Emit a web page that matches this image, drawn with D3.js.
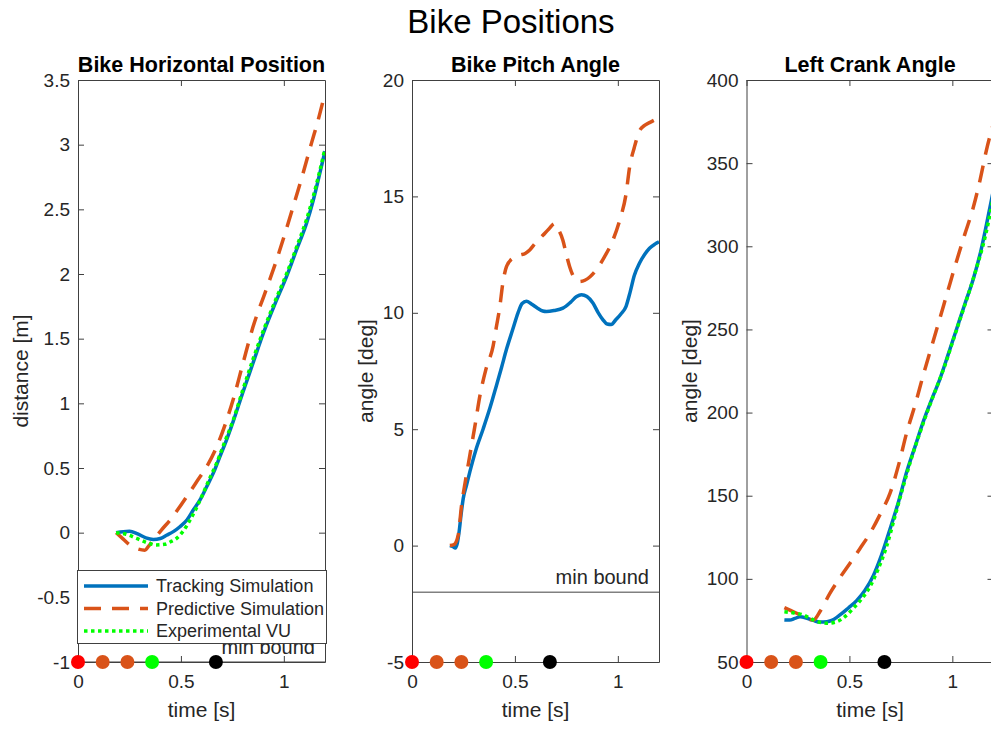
<!DOCTYPE html>
<html>
<head>
<meta charset="utf-8">
<script src="https://cdn.jsdelivr.net/npm/d3@7"></script>
<style>
  html, body { margin: 0; padding: 0; background: #fff; overflow: hidden; }
  svg { display: block; font-family: "Liberation Sans", Arial, sans-serif; }
</style>
</head>
<body>
<svg id="chart" width="991" height="729"></svg>
<script>
// ---------------- DATA ----------------
const figureTitle = "Bike Positions";
const panelTitles = ["Bike Horizontal Position", "Bike Pitch Angle", "Left Crank Angle"];
const yLabels = ["distance [m]", "angle [deg]", "angle [deg]"];
const xLabel = "time [s]";
const seriesNames = ["Tracking Simulation", "Predictive Simulation", "Experimental VU"];

const timeDomain = [0, 1.2];
const timeTicks = [0, 0.5, 1];

const horizDomain = [-1, 3.5];
const horizTicks = [-1, -0.5, 0, 0.5, 1, 1.5, 2, 2.5, 3, 3.5];
const pitchDomain = [-5, 20];
const pitchTicks = [-5, 0, 5, 10, 15, 20];
const crankDomain = [50, 400];
const crankTicks = [50, 100, 150, 200, 250, 300, 350, 400];

const minBounds = [-1, -2, null];

const markerTimes = [0, 0.12, 0.24, 0.36, 0.67];
const markerColors = ["#FF0000", "#D95319", "#D95319", "#00FF00", "#000000"];

// [time, value]
const horizTracking = [[0.185,0],[0.22,0.008],[0.25,0.01],[0.29,-0.01],[0.33,-0.04],[0.366,-0.052],[0.40,-0.045],[0.43,-0.02],[0.465,0.01],[0.495,0.046],[0.53,0.1],[0.56,0.175],[0.595,0.26],[0.625,0.355],[0.66,0.47],[0.689,0.587],[0.72,0.71],[0.754,0.86],[0.8,1.08],[0.85,1.31],[0.9,1.54],[0.96,1.78],[1.013,1.98],[1.06,2.18],[1.11,2.39],[1.143,2.57],[1.175,2.78],[1.2,2.95]];
const horizPredictive = [[0.185,0],[0.22,-0.05],[0.252,-0.096],[0.29,-0.125],[0.325,-0.135],[0.345,-0.1],[0.366,-0.057],[0.405,0.02],[0.447,0.097],[0.49,0.19],[0.528,0.278],[0.575,0.39],[0.625,0.51],[0.67,0.65],[0.714,0.832],[0.754,1.03],[0.8,1.3],[0.85,1.59],[0.91,1.86],[0.965,2.11],[1.005,2.31],[1.045,2.52],[1.09,2.76],[1.134,3.01],[1.165,3.18],[1.2,3.40]];
const horizExperimental = [[0.185,0],[0.23,-0.01],[0.285,-0.044],[0.34,-0.08],[0.38,-0.095],[0.42,-0.09],[0.45,-0.07],[0.479,-0.044],[0.51,0.01],[0.544,0.097],[0.575,0.19],[0.608,0.304],[0.64,0.42],[0.673,0.536],[0.71,0.69],[0.754,0.87],[0.8,1.1],[0.85,1.34],[0.9,1.56],[0.96,1.8],[1.013,2.0],[1.06,2.2],[1.11,2.42],[1.143,2.6],[1.175,2.8],[1.2,2.97]];

const pitchTracking = [[0.184,0],[0.2,-0.05],[0.21,-0.1],[0.22,0.1],[0.229,0.6],[0.238,1.3],[0.249,2.03],[0.265,2.6],[0.281,3.17],[0.31,4.1],[0.346,5.02],[0.38,5.95],[0.41,6.87],[0.435,7.65],[0.459,8.43],[0.49,9.3],[0.515,10.0],[0.535,10.4],[0.556,10.5],[0.58,10.38],[0.61,10.2],[0.635,10.08],[0.653,10.06],[0.69,10.1],[0.733,10.2],[0.77,10.45],[0.8,10.7],[0.823,10.78],[0.85,10.7],[0.879,10.42],[0.905,10.0],[0.927,9.71],[0.948,9.52],[0.968,9.5],[0.99,9.7],[1.015,9.95],[1.04,10.28],[1.06,10.9],[1.08,11.6],[1.105,12.13],[1.13,12.5],[1.154,12.77],[1.18,12.95],[1.2,13.05]];
const pitchPredictive = [[0.184,0],[0.205,0.05],[0.225,0.47],[0.241,1.75],[0.26,2.8],[0.281,3.88],[0.305,5.1],[0.33,6.44],[0.36,7.6],[0.394,8.57],[0.41,9.4],[0.427,10.28],[0.44,11.2],[0.459,11.98],[0.49,12.35],[0.524,12.48],[0.55,12.55],[0.572,12.7],[0.6,13.0],[0.636,13.33],[0.665,13.6],[0.693,13.83],[0.71,13.6],[0.733,13.12],[0.75,12.5],[0.766,11.98],[0.785,11.55],[0.814,11.34],[0.84,11.4],[0.865,11.55],[0.895,11.84],[0.935,12.4],[0.976,13.12],[1.01,14.0],[1.04,15.11],[1.057,16.25],[1.08,17.1],[1.105,17.81],[1.13,18.05],[1.154,18.17],[1.2,18.38]];
const pitchExperimental = [];

const crankTracking = [[0.184,75.3],[0.21,75.2],[0.235,76.2],[0.26,77.2],[0.29,76.5],[0.325,75.0],[0.357,74.0],[0.373,74.0],[0.41,74.8],[0.454,78.3],[0.495,82.5],[0.535,86.9],[0.575,93],[0.616,101.9],[0.655,114],[0.697,129.8],[0.74,147],[0.778,164.2],[0.82,180],[0.858,194.3],[0.9,208],[0.939,220],[0.98,235],[1.02,250],[1.06,265],[1.101,280],[1.14,298],[1.182,323],[1.2,334]];
const crankPredictive = [[0.184,82.7],[0.214,81],[0.244,79.3],[0.28,77.3],[0.31,75.5],[0.325,75.3],[0.36,81],[0.405,91.3],[0.45,100],[0.502,109.3],[0.55,118],[0.6,127.4],[0.65,139],[0.697,151.4],[0.74,169],[0.778,187.8],[0.82,205],[0.858,222.2],[0.9,240],[0.939,256.5],[0.98,274],[1.02,290.9],[1.06,307],[1.101,323],[1.135,340],[1.166,358],[1.2,374]];
const crankExperimental = [[0.184,80.2],[0.23,79.5],[0.276,78.3],[0.325,75.3],[0.36,73.8],[0.389,73.3],[0.438,74.2],[0.48,77.5],[0.519,82.3],[0.56,88],[0.6,95.3],[0.64,106],[0.68,119.3],[0.72,137],[0.76,155],[0.8,172],[0.84,187],[0.88,201],[0.92,214],[0.96,227],[1.0,242],[1.04,257],[1.08,272],[1.12,288],[1.16,306],[1.2,330]];

// ---------------- STYLE / LAYOUT ----------------
const seriesStyles = [
  { color: "#0072BD", width: 3.5, dash: null },
  { color: "#D95319", width: 3.5, dash: "17,11" },
  { color: "#00FF00", width: 3.5, dash: "3.5,3.5" }
];
const axisColor = "#404040";
const textColor = "#262626";
const fontFamily = '"Liberation Sans", Arial, sans-serif';

const panelLefts = [78, 412, 746.5];
const panelWidth = 247;
const panelTop = 80, panelBottom = 662;
const yLabelX = [28, 373, 697];

const panels = [
  { domain: horizDomain, ticks: horizTicks, series: [horizTracking, horizPredictive, horizExperimental] },
  { domain: pitchDomain, ticks: pitchTicks, series: [pitchTracking, pitchPredictive, pitchExperimental] },
  { domain: crankDomain, ticks: crankTicks, series: [crankTracking, crankPredictive, crankExperimental] }
];

const svg = d3.select("#chart");

svg.append("text")
  .attr("x", 511).attr("y", 33)
  .attr("text-anchor", "middle")
  .attr("font-size", 33).attr("fill", "#000")
  .text(figureTitle);

const fmt = d => String(d);

panels.forEach((p, i) => {
  const x0 = panelLefts[i];
  const x = d3.scaleLinear().domain(timeDomain).range([x0, x0 + panelWidth]);
  const y = d3.scaleLinear().domain(p.domain).range([panelBottom, panelTop]);
  const g = svg.append("g");

  const clipId = "clip" + i;
  svg.append("clipPath").attr("id", clipId)
    .append("rect").attr("x", x0).attr("y", panelTop).attr("width", panelWidth).attr("height", panelBottom - panelTop);

  // min bound
  if (minBounds[i] !== null) {
    g.append("line")
      .attr("x1", x(timeDomain[0])).attr("x2", x(timeDomain[1]))
      .attr("y1", y(minBounds[i])).attr("y2", y(minBounds[i]))
      .attr("stroke", "#808080").attr("stroke-width", 1.5);
    g.append("text")
      .attr("x", x(timeDomain[1]) - 10).attr("y", y(minBounds[i]) - 8)
      .attr("text-anchor", "end").attr("font-size", 20).attr("fill", textColor)
      .text("min bound");
  }

  // axes
  const axes = [
    { ax: d3.axisBottom(x).tickValues(timeTicks).tickFormat(fmt).tickSize(-6).tickSizeOuter(0).tickPadding(13), tr: `translate(0,${panelBottom})` },
    { ax: d3.axisTop(x).tickValues(timeTicks).tickFormat("").tickSize(-6).tickSizeOuter(0), tr: `translate(0,${panelTop})` },
    { ax: d3.axisLeft(y).tickValues(p.ticks).tickFormat(fmt).tickSize(-6).tickSizeOuter(0).tickPadding(8), tr: `translate(${x0},0)` },
    { ax: d3.axisRight(y).tickValues(p.ticks).tickFormat("").tickSize(-6).tickSizeOuter(0), tr: `translate(${x0 + panelWidth},0)` }
  ];
  axes.forEach(a => {
    const ag = g.append("g").attr("transform", a.tr).call(a.ax);
    ag.select(".domain").attr("stroke", axisColor).attr("stroke-width", 1);
    ag.selectAll(".tick line").attr("stroke", axisColor).attr("stroke-width", 1);
    ag.selectAll(".tick text").attr("fill", textColor).attr("font-size", 19).attr("font-family", fontFamily);
  });

  // series
  const line = d3.line().x(d => x(d[0])).y(d => y(d[1])).curve(d3.curveMonotoneX);
  p.series.forEach((s, k) => {
    if (!s.length) return;
    const st = seriesStyles[k];
    g.append("path")
      .attr("clip-path", `url(#${clipId})`)
      .attr("d", line(s))
      .attr("fill", "none")
      .attr("stroke", st.color)
      .attr("stroke-width", st.width)
      .attr("stroke-dasharray", st.dash)
      .attr("stroke-linejoin", "round");
  });

  // event markers
  g.selectAll("circle.ev").data(markerTimes).enter().append("circle")
    .attr("cx", d => x(d)).attr("cy", y(p.domain[0])).attr("r", 7)
    .attr("fill", (d, j) => markerColors[j]);

  // titles and labels
  g.append("text")
    .attr("x", x0 + panelWidth / 2).attr("y", 72)
    .attr("text-anchor", "middle").attr("font-size", 21.5).attr("font-weight", "bold").attr("fill", "#000")
    .text(panelTitles[i]);
  g.append("text")
    .attr("x", x0 + panelWidth / 2).attr("y", 717)
    .attr("text-anchor", "middle").attr("font-size", 21).attr("fill", textColor)
    .text(xLabel);
  g.append("text")
    .attr("transform", `translate(${yLabelX[i]},${(panelTop + panelBottom) / 2}) rotate(-90)`)
    .attr("text-anchor", "middle").attr("font-size", 21).attr("fill", textColor)
    .text(yLabels[i]);
});

// legend (in first panel)
const lg = svg.append("g");
lg.append("rect").attr("x", 77.5).attr("y", 570.5).attr("width", 249).attr("height", 73)
  .attr("fill", "#fff").attr("stroke", axisColor).attr("stroke-width", 1);
seriesNames.forEach((name, k) => {
  const cy = 586 + k * 22.5;
  const st = seriesStyles[k];
  lg.append("line").attr("x1", 84).attr("x2", 148).attr("y1", cy).attr("y2", cy)
    .attr("stroke", st.color).attr("stroke-width", st.width).attr("stroke-dasharray", st.dash);
  lg.append("text").attr("x", 156).attr("y", cy).attr("dy", "0.35em")
    .attr("font-size", 18).attr("fill", textColor).text(name);
});
</script>
</body>
</html>
